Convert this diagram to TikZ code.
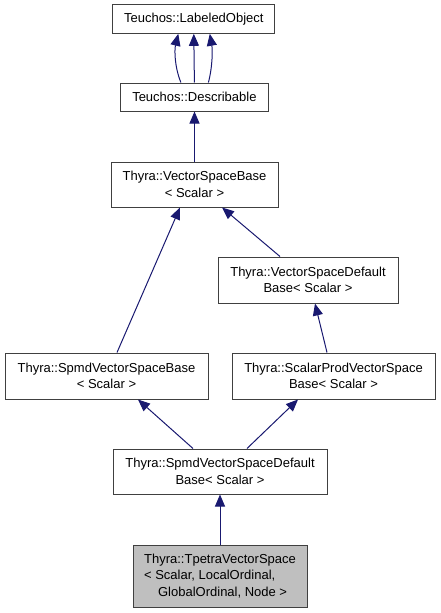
\documentclass[tikz,border=0pt]{standalone}
\usepackage{fontspec}
\setmainfont{Liberation Sans}
\usetikzlibrary{arrows.meta}
\definecolor{edgeblue}{RGB}{25,25,112}
\definecolor{boxline}{RGB}{64,64,64}
\definecolor{curfill}{RGB}{191,191,191}
\begin{document}
\begin{tikzpicture}[x=1pt,y=-1pt,
  cls/.style={draw=boxline,line width=1pt,fill=white,inner sep=0pt,align=center,
    font=\fontsize{13}{16.5}\selectfont},
  cur/.style={cls,fill=curfill},
  inh/.style={draw=edgeblue,line width=1pt,-{Triangle[length=12pt,width=10pt,fill=edgeblue]}}]
\useasboundingbox (0,0) rectangle (440,613);
\node[cls,minimum width=162pt,minimum height=28.6pt] (L) at (193.8,19) {Teuchos::LabeledObject};
\node[cls,minimum width=147.3pt,minimum height=28pt] (D) at (194.4,97) {Teuchos::Describable};
\node[cls,minimum width=167pt,minimum height=45pt] (VSB) at (194.5,184.5) {Thyra::VectorSpaceBase\\< Scalar >};
\node[cls,minimum width=180pt,minimum height=46pt] (VSDB) at (308,280) {Thyra::VectorSpaceDefault\\Base< Scalar >};
\node[cls,minimum width=203pt,minimum height=46pt] (SVSB) at (106.5,376) {Thyra::SpmdVectorSpaceBase\\< Scalar >};
\node[cls,minimum width=203pt,minimum height=46pt] (SPVSB) at (333.5,376) {Thyra::ScalarProdVectorSpace\\Base< Scalar >};
\node[cls,minimum width=214pt,minimum height=45pt] (SVSDB) at (220,471.5) {Thyra::SpmdVectorSpaceDefault\\Base< Scalar >};
\node[cur,minimum width=174pt,minimum height=62pt,align=left] (T) at (220,576) {Thyra::TpetraVectorSpace\\< Scalar, LocalOrdinal,\\\hspace*{14pt}GlobalOrdinal, Node >};

\draw[inh] (D.north) -- (L.south);
\draw[inh] ([xshift=-13.5pt]D.north) .. controls ([xshift=-20pt,yshift=16pt]D.north) and ([xshift=-19.4pt,yshift=-16pt]L.south) .. ([xshift=-15.5pt]L.south);
\draw[inh] ([xshift=14pt]D.north) .. controls ([xshift=18.2pt,yshift=16pt]D.north) and ([xshift=18.8pt,yshift=-16pt]L.south) .. ([xshift=16pt]L.south);
\draw[inh] (VSB.north) -- (VSB.north |- D.south);
\draw[inh] ([xshift=10.5pt]SVSB.north) -- ([xshift=-14.5pt]VSB.south);
\draw[inh] ([xshift=-28pt]VSDB.north) -- ([xshift=27.5pt]VSB.south);
\draw[inh] ([xshift=-6.5pt]SPVSB.north) -- ([xshift=7pt]VSDB.south);
\draw[inh] ([xshift=-27pt]SVSDB.north) -- ([xshift=31.5pt]SVSB.south);
\draw[inh] ([xshift=27pt]SVSDB.north) -- ([xshift=-35.5pt]SPVSB.south);
\draw[inh] (T.north) -- (SVSDB.south);
\end{tikzpicture}
\end{document}
